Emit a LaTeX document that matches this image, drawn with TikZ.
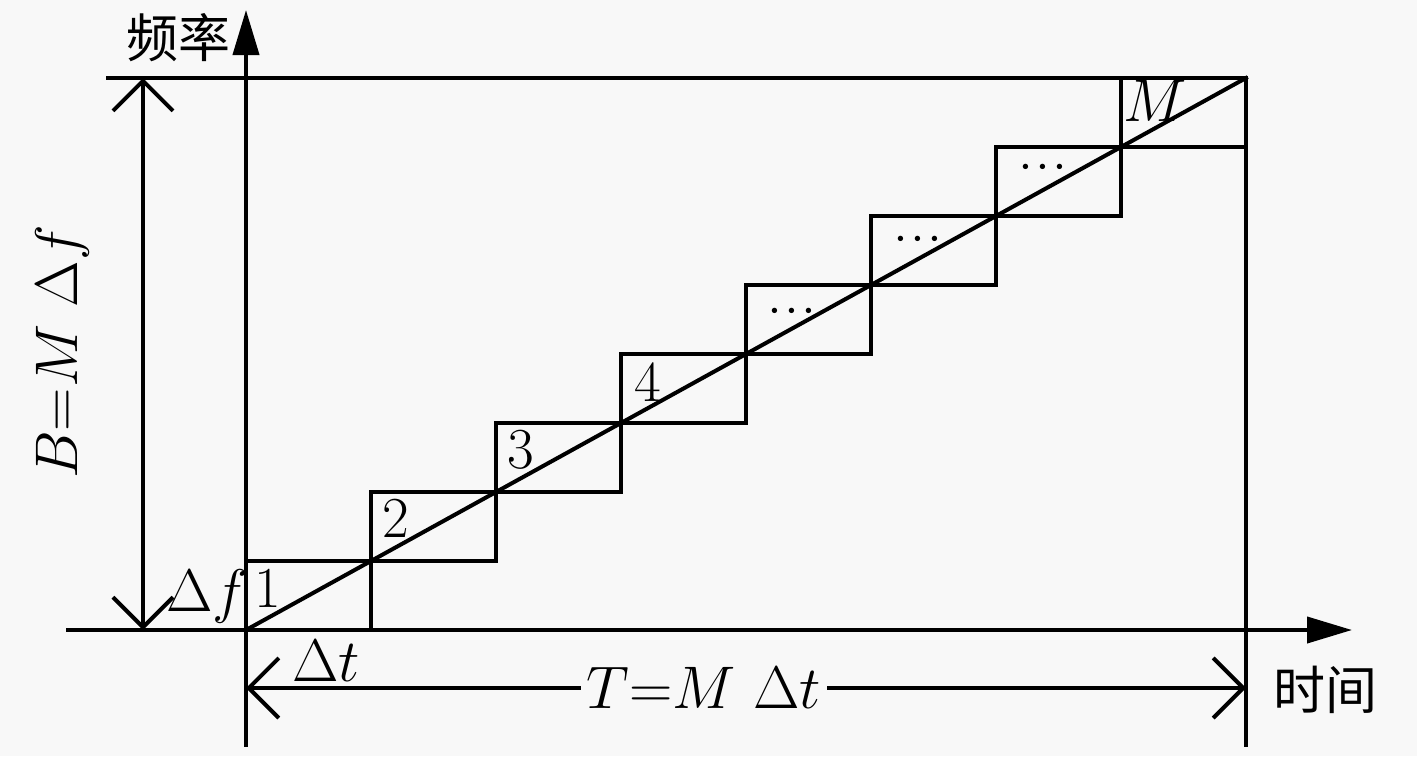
\documentclass[tikz,border=0pt]{standalone}
\usepackage{fontspec}
\newfontfamily\cjk{Noto Sans CJK SC}
\usetikzlibrary{arrows.meta}
\definecolor{bgc}{HTML}{F8F8F8}
\tikzset{
  base/.style={line width=4pt, line cap=rect},
  axisarrow/.style={base, -{Triangle[length=45pt,width=26pt]}},
  dimarrow/.style={base, {Straight Barb[length=30pt,width=60pt]}-{Straight Barb[length=30pt,width=60pt]}},
  lbl/.style={inner sep=0pt, font=\fontsize{20}{24}\selectfont, scale=2.9},
  dotlbl/.style={inner sep=0pt, font=\fontsize{20}{24}\selectfont\boldmath, scale=1.65},
  cjklbl/.style={inner sep=0pt, font=\fontsize{52}{56}\selectfont\cjk},
}
\begin{document}
\begin{tikzpicture}[x=1pt,y=-1pt]
\fill[bgc] (0,0) rectangle (1417,756);
\useasboundingbox (0,0) rectangle (1417,756);
% key points
\coordinate (O) at (246,630);
\coordinate (xs) at (68,630);
\coordinate (xe) at (1352,630);
\coordinate (ys) at (246,745);
\coordinate (ye) at (246,10);
\coordinate (TL) at (108,78);
\coordinate (TR) at (1246,78);
\coordinate (RB) at (1246,745);
\coordinate (Bt) at (143,78);
\coordinate (Bb) at (143,630);
\coordinate (Tl) at (246,688);
\coordinate (Tr) at (1246,688);
% axes
\draw[axisarrow] (xs) -- (xe);
\draw[axisarrow] (ys) -- (ye);
% frame lines
\draw[base] (TL) -- (TR) -- (RB);
% steps
\foreach \i in {0,...,7}{
  \pgfmathsetmacro{\xa}{246+125*\i}
  \pgfmathsetmacro{\ya}{630-69*\i}
  \pgfmathsetmacro{\xb}{246+125*(\i+1)}
  \pgfmathsetmacro{\yb}{630-69*(\i+1)}
  \draw[base] (\xa,\ya) rectangle (\xb,\yb);
}
% diagonal
\draw[base] (O) -- (TR);
% dimension arrows
\draw[dimarrow] (Bt) -- (Bb);
\draw[dimarrow] (Tl) -- (Tr);
\node[lbl, fill=bgc, inner xsep=2pt, inner ysep=1pt] (T) at (704,688) {$T{=}M\ \Delta t$};
\node[lbl, rotate=90] (B) at (62,352) {$B{=}M\ \Delta f$};
% labels
\node[lbl] (dt) at (326,661) {$\Delta t$};
\node[lbl] (df) at (207,596) {$\Delta f$};
\node[lbl] (n1) at (268,588) {1};
\node[lbl] (n2) at (396,518) {2};
\node[lbl] (n3) at (521,450) {3};
\node[lbl] (n4) at (648,382) {4};
\node[dotlbl] (d5) at (792,311) {$\cdots$};
\node[dotlbl] (d6) at (918,239) {$\cdots$};
\node[dotlbl] (d7) at (1043,167) {$\cdots$};
\node[lbl] (nM) at (1155,101) {$M$};
\node[cjklbl] (freq) at (178,38) {频率};
\node[cjklbl] (time) at (1325,690) {时间};
\end{tikzpicture}
\end{document}
